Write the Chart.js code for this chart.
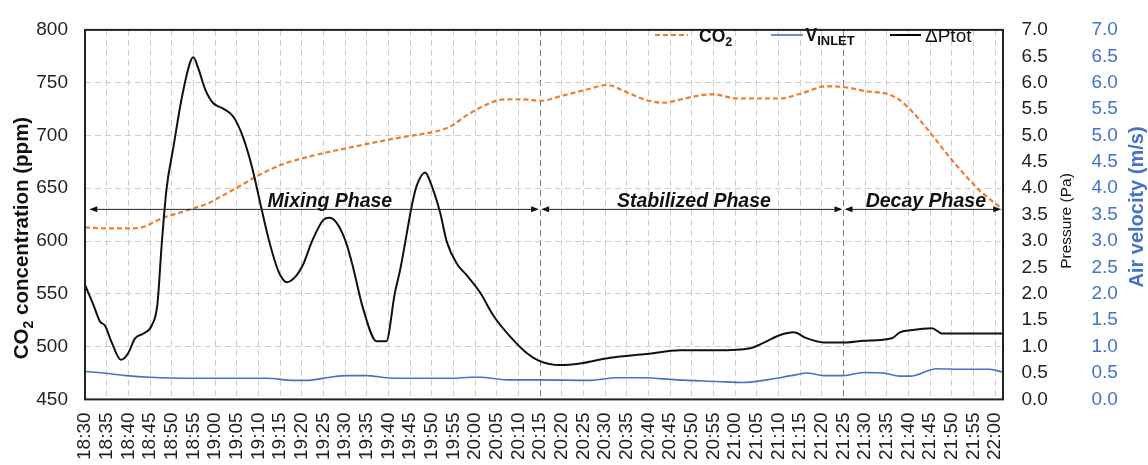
<!DOCTYPE html>
<html>
<head>
<meta charset="utf-8">
<script src="https://cdn.jsdelivr.net/npm/chart.js@4.4.1/dist/chart.umd.min.js"></script>
<style>
  html, body { margin: 0; padding: 0; background: #fff; }
  canvas { display: block; }
</style>
</head>
<body>
<canvas id="c" width="1148" height="465"></canvas>
<script>
// ---- Time axis (labels every 5 minutes) ----
const timeLabels = [
  '18:30','18:35','18:40','18:45','18:50','18:55','19:00','19:05','19:10','19:15','19:20',
  '19:25','19:30','19:35','19:40','19:45','19:50','19:55','20:00','20:05','20:10','20:15',
  '20:20','20:25','20:30','20:35','20:40','20:45','20:50','20:55','21:00','21:05','21:10',
  '21:15','21:20','21:25','21:30','21:35','21:40','21:45','21:50','21:55','22:00'
];

// ---- CO2 concentration (ppm), time in minutes after 18:30 ----
const co2Minutes = [0, 5, 10, 12.5, 15, 18, 22, 25, 28, 30.4, 35, 40.4, 45.8, 52.7, 60.4, 68, 72.7,
  79.6, 82, 85, 87.3, 91.2, 95.4, 98.8, 102, 105, 110.4, 115.8, 120.4, 125, 129.6, 133.5, 137.3,
  141.9, 145, 150.4, 155, 160.4, 165, 171.2, 175.4, 180.4, 185, 188, 191.2, 195, 198.8, 202.7,
  206.5, 211.6];
const co2Ppm = [613, 612, 612, 612.5, 616, 622, 627, 631, 635, 640, 650.5, 663, 673, 681, 688, 694.4, 698,
  702.7, 705, 710, 717, 726.4, 733.4, 734.3, 734, 732.8, 738, 743.5, 747.8, 741, 733.4, 731, 734,
  738, 739, 735, 735, 735, 739.5, 746.6, 745.7, 741.7, 739.5, 733.4, 721, 702.7, 682.8, 664,
  647.5, 630.5];

// ---- Inlet air velocity (m/s) ----
const velMinutes = [0, 4.2, 9.6, 15, 24.2, 41.9, 48.1, 51.2, 56.5, 60.4, 65, 69.6, 72.7, 85, 88.8,
  91.2, 97.3, 104.8, 116.5, 122.7, 128.8, 136.5, 145.8, 151.9, 156.5, 164.2, 166.5, 170.4, 175,
  179.6, 184.2, 188, 190.4, 196.5, 201.9, 208.8, 211.6];
const velMs = [0.53, 0.50, 0.45, 0.42, 0.40, 0.40, 0.36, 0.36, 0.42, 0.45, 0.45, 0.41, 0.40, 0.40, 0.42,
  0.42, 0.37, 0.37, 0.36, 0.41, 0.41, 0.37, 0.34, 0.32, 0.36, 0.47, 0.50, 0.45, 0.45,
  0.51, 0.50, 0.44, 0.44, 0.58, 0.57, 0.57, 0.52];

// ---- Total pressure difference (Pa) ----
const dpMinutes = [0, 1.9, 3.5, 4.6, 6.2, 8.3, 10, 11.5, 13.5, 15.4, 16.7, 17.7, 18.8, 20.4, 22.3,
  24.2, 25, 26.1, 27.7, 29.6, 31.9, 34.2, 36.5, 38.5, 40.4, 42.3, 44, 45, 46.5, 48.5, 50.4, 52.3,
  55, 56.4, 58.1, 60.2, 61.7, 64.2, 67.3, 69.5, 71.5, 72.7, 73.8, 75.4, 76.5, 78.5, 79.6, 81.9,
  83.5, 85.8, 88.1, 91.2, 94.2, 98.1, 101.9, 104.8, 109.6, 114.2, 121.2, 129.6, 137.3, 145.8,
  153.5, 156.5, 160.4, 163.5, 166.5, 170.4, 175.8, 179.6, 186.2, 188, 190.4, 195.4, 197.7, 211.6];
const dpPa = [2.17, 1.80, 1.47, 1.40, 1.07, 0.75, 0.88, 1.15, 1.25, 1.40, 1.80, 2.94, 3.98, 4.78, 5.70,
  6.37, 6.48, 6.28, 5.88, 5.61, 5.51, 5.36, 4.96, 4.41, 3.73, 3.06, 2.57, 2.36, 2.22, 2.32, 2.57, 2.98,
  3.40, 3.44, 3.34, 2.98, 2.55, 1.71, 1.10, 1.10, 2.02, 2.45, 2.94, 3.67, 4.04, 4.30, 4.13, 3.55,
  2.98, 2.57, 2.35, 2.02, 1.59, 1.19, 0.88, 0.73, 0.65, 0.68, 0.79, 0.86, 0.93, 0.93,
  0.97, 1.07, 1.22, 1.27, 1.16, 1.08, 1.08, 1.11, 1.16, 1.27, 1.31, 1.35, 1.25, 1.25];

// ---- Experiment phases (minutes after 18:30) ----
const phaseNames = ['Mixing Phase', 'Stabilized Phase', 'Decay Phase'];
const phaseBounds = [1, 105, 175, 211.4];
const phaseLabelAt = [56.5, 140.5, 194];
const phaseLevelPpm = 630;

const FONT = '"Liberation Sans", Arial, Helvetica, sans-serif';
const TICK_COLOR = '#1f1f1f';
const BLUE = '#4472C4';
const ORANGE = '#ED7D31';

const toMinutes = s => { const [h, m] = s.split(':').map(Number); return h * 60 + m - (18 * 60 + 30); };
const tickMinutes = timeLabels.map(toMinutes);
const pts = (xs, ys) => xs.map((x, i) => ({ x, y: ys[i] }));

function rotatedText(ctx, runs, cx, cy, color) {
  ctx.save();
  ctx.translate(cx, cy);
  ctx.rotate(-Math.PI / 2);
  ctx.fillStyle = color;
  ctx.textBaseline = 'alphabetic';
  ctx.textAlign = 'left';
  let total = 0;
  runs.forEach(r => { ctx.font = r.font; r.w = ctx.measureText(r.text).width; total += r.w; });
  let x = -total / 2;
  runs.forEach(r => { ctx.font = r.font; ctx.fillText(r.text, x, r.dy); x += r.w; });
  ctx.restore();
}

function arrowHead(ctx, x, y, dir) {
  ctx.beginPath();
  ctx.moveTo(x, y);
  ctx.lineTo(x - dir * 8, y - 3);
  ctx.lineTo(x - dir * 8, y + 3);
  ctx.closePath();
  ctx.fill();
}

const decor = {
  id: 'decor',
  beforeDraw(chart) {
    const ctx = chart.ctx;
    ctx.save();
    ctx.fillStyle = '#fff';
    ctx.fillRect(0, 0, chart.width, chart.height);
    ctx.restore();
  },
  afterDatasetsDraw(chart) {
    const { ctx, chartArea: a, scales } = chart;
    const sx = scales.x, sy = scales.y;
    ctx.save();

    // phase arrows and names
    const yl = sy.getPixelForValue(phaseLevelPpm);
    ctx.strokeStyle = '#262626';
    ctx.fillStyle = '#111';
    ctx.lineWidth = 1;
    for (let i = 0; i < phaseNames.length; i++) {
      const x0 = sx.getPixelForValue(phaseBounds[i]) + (i > 0 ? 1 : 0);
      const x1 = sx.getPixelForValue(phaseBounds[i + 1]) - (i < phaseNames.length - 1 ? 1 : 0);
      ctx.beginPath();
      ctx.moveTo(x0 + 4, yl);
      ctx.lineTo(x1 - 4, yl);
      ctx.stroke();
      arrowHead(ctx, x0, yl, -1);
      arrowHead(ctx, x1, yl, 1);
      ctx.font = 'italic bold 19.5px ' + FONT;
      ctx.textAlign = 'center';
      ctx.textBaseline = 'alphabetic';
      ctx.fillText(phaseNames[i], sx.getPixelForValue(phaseLabelAt[i]), yl - 2);
    }

    // plot frame
    ctx.strokeStyle = '#222';
    ctx.lineWidth = 2;
    ctx.strokeRect(a.left, a.top, a.right - a.left, a.bottom - a.top);

    // legend
    const ly = 35;
    ctx.lineWidth = 2.2;
    ctx.strokeStyle = ORANGE;
    ctx.setLineDash([5, 3]);
    ctx.beginPath(); ctx.moveTo(655, ly); ctx.lineTo(688, ly); ctx.stroke();
    ctx.setLineDash([]);
    ctx.lineWidth = 1.6;
    ctx.strokeStyle = BLUE;
    ctx.beginPath(); ctx.moveTo(771, ly); ctx.lineTo(803, ly); ctx.stroke();
    ctx.lineWidth = 2;
    ctx.strokeStyle = '#000';
    ctx.beginPath(); ctx.moveTo(890, ly); ctx.lineTo(921, ly); ctx.stroke();

    ctx.fillStyle = '#111';
    ctx.textAlign = 'left';
    ctx.textBaseline = 'alphabetic';
    ctx.font = 'bold 17.5px ' + FONT;
    ctx.fillText('CO', 699, 41.5);
    let w = ctx.measureText('CO').width;
    ctx.font = 'bold 12.5px ' + FONT;
    ctx.fillText('2', 699 + w, 46);
    ctx.font = 'bold 17.5px ' + FONT;
    ctx.fillText('V', 805.5, 41);
    w = ctx.measureText('V').width;
    ctx.font = 'bold 13px ' + FONT;
    ctx.fillText('INLET', 805.5 + w, 45);
    ctx.font = '19px ' + FONT;
    ctx.fillText('\u0394Ptot', 925, 41.5);

    // axis titles
    rotatedText(ctx, [
      { text: 'CO', font: 'bold 20.5px ' + FONT, dy: 7 },
      { text: '2', font: 'bold 14px ' + FONT, dy: 11.5 },
      { text: ' concentration (ppm)', font: 'bold 20.5px ' + FONT, dy: 7 }
    ], 21, 238, '#111');
    rotatedText(ctx, [{ text: 'Pressure (Pa)', font: '15.5px ' + FONT, dy: 5.5 }], 1065, 221, '#111');
    rotatedText(ctx, [{ text: 'Air velocity (m/s)', font: 'bold 20px ' + FONT, dy: 7 }], 1136, 207, BLUE);

    ctx.restore();
  }
};

const specialMinutes = phaseBounds.slice(1, 3);

new Chart(document.getElementById('c'), {
  type: 'line',
  data: {
    datasets: [
      {
        label: 'CO2', data: pts(co2Minutes, co2Ppm), yAxisID: 'y',
        borderColor: ORANGE, borderWidth: 2.2, borderDash: [5, 3],
        pointRadius: 0, cubicInterpolationMode: 'monotone', order: 2
      },
      {
        label: 'VINLET', data: pts(velMinutes, velMs), yAxisID: 'y2',
        borderColor: BLUE, borderWidth: 1.6,
        pointRadius: 0, cubicInterpolationMode: 'monotone', order: 3
      },
      {
        label: '\u0394Ptot', data: pts(dpMinutes, dpPa), yAxisID: 'y1',
        borderColor: '#111', borderWidth: 2,
        pointRadius: 0, cubicInterpolationMode: 'monotone', order: 1
      }
    ]
  },
  options: {
    responsive: false,
    animation: false,
    devicePixelRatio: 1,
    layout: { padding: { top: 19.3, left: 0, right: 0, bottom: 0 } },
    plugins: { legend: { display: false }, tooltip: { enabled: false } },
    scales: {
      x: {
        type: 'linear', min: 0, max: 211.8,
        afterBuildTicks: s => { s.ticks = tickMinutes.map(v => ({ value: v })); },
        afterFit: s => { s.height = 65.6; },
        ticks: {
          autoSkip: false, minRotation: 90, maxRotation: 90, padding: 13,
          color: TICK_COLOR, font: { family: FONT, size: 19 },
          callback: (v, i) => timeLabels[i]
        },
        grid: {
          drawTicks: false, lineWidth: 1,
          color: c => (c.tick && specialMinutes.includes(c.tick.value)) ? '#7a7a7a' : '#cdcdcd'
        },
        border: { display: false, dash: [6, 4] }
      },
      y: {
        position: 'left', min: 450, max: 800,
        afterFit: s => { s.width = 85; },
        ticks: { stepSize: 50, padding: 17, color: TICK_COLOR, font: { family: FONT, size: 19 } },
        grid: { drawTicks: false, color: '#cdcdcd', lineWidth: 1 },
        border: { display: false, dash: [6, 4] }
      },
      y1: {
        position: 'right', min: 0, max: 7,
        afterFit: s => { s.width = 75; },
        ticks: {
          stepSize: 0.5, padding: 18.5, color: TICK_COLOR, font: { family: FONT, size: 19 },
          callback: v => Number(v).toFixed(1)
        },
        grid: { drawOnChartArea: false, drawTicks: false },
        border: { display: false }
      },
      y2: {
        position: 'right', min: 0, max: 7,
        afterFit: s => { s.width = 70; },
        ticks: {
          stepSize: 0.5, padding: 13.5, color: BLUE, font: { family: FONT, size: 19 },
          callback: v => Number(v).toFixed(1)
        },
        grid: { drawOnChartArea: false, drawTicks: false },
        border: { display: false }
      }
    }
  },
  plugins: [decor]
});
</script>
</body>
</html>
